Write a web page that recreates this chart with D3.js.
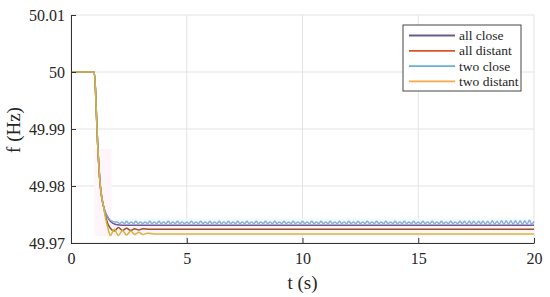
<!DOCTYPE html>
<head>
  <meta charset="utf-8">
  <script src="https://d3js.org/d3.v7.min.js"></script>
  <style>
    body { margin:0; background:white; }
    svg text { font-family: "Liberation Serif", "Times New Roman", serif; fill:#262626; }
    .grid line { stroke:#e3e3e3; }
    .axis path, .axis line { stroke:#333; }
  </style>
</head>
<body>
  <div class="chart"></div>
  <script>
    const margin = { top: 15, right: 16, bottom: 54, left: 71 };
    const width = 550 - margin.left - margin.right;
    const height = 297 - margin.top - margin.bottom;

    const xTicks = [0, 5, 10, 15, 20];
    const yTicks = [49.97, 49.98, 49.99, 50, 50.01];
    const yTickLabels = ['49.97', '49.98', '49.99', '50', '50.01'];
    const seriesNames = ['all close', 'all distant', 'two close', 'two distant'];

    // shared part: steady 50 Hz then the drop
    const dropT = [0, 1.0, 1.05, 1.1, 1.15, 1.2, 1.25, 1.3, 1.4];
    const dropF = [50, 50, 49.9975, 49.9925, 49.9875, 49.9838, 49.9808, 49.9788, 49.9765];

    const allCloseT = [1.5, 1.6, 1.7, 1.8, 2.0, 2.4, 20];
    const allCloseF = [49.9752, 49.9744, 49.9738, 49.9735, 49.9732, 49.9731, 49.9731];

    const allDistantT = [1.5, 1.6, 1.7, 1.87, 2.05, 2.22, 2.4, 2.58, 2.75, 2.93, 3.1, 3.4, 20];
    const allDistantF = [49.9746, 49.9733, 49.9726, 49.9721, 49.9727, 49.9722, 49.9726, 49.9722, 49.9725, 49.9723, 49.9725, 49.9724, 49.9724];

    const twoCloseT = [1.5, 1.6, 1.7, 1.8, 1.9];
    const twoCloseF = [49.9752, 49.9745, 49.9740, 49.9738, 49.9737];
    // two close: sampled every 0.1 s from t = 2.0 to 20
    const twoCloseTail = [
      49.9737, 49.9734, 49.9737, 49.9734, 49.9738, 49.9734, 49.9737, 49.9734, 49.9738, 49.9734,
      49.9737, 49.9734, 49.9737, 49.9734, 49.9738, 49.9734, 49.9737, 49.9734, 49.9738, 49.9734,
      49.9737, 49.9734, 49.9738, 49.9734, 49.9737, 49.9734, 49.9738, 49.9734, 49.9737, 49.9734,
      49.9737, 49.9734, 49.9738, 49.9734, 49.9737, 49.9734, 49.9738, 49.9734, 49.9737, 49.9734,
      49.9738, 49.9734, 49.9737, 49.9734, 49.9738, 49.9734, 49.9737, 49.9734, 49.9738, 49.9734,
      49.9737, 49.9734, 49.9738, 49.9734, 49.9737, 49.9734, 49.9738, 49.9734, 49.9737, 49.9734,
      49.9738, 49.9734, 49.9737, 49.9734, 49.9738, 49.9734, 49.9737, 49.9734, 49.9738, 49.9734,
      49.9737, 49.9734, 49.9738, 49.9734, 49.9737, 49.9734, 49.9738, 49.9734, 49.9737, 49.9734,
      49.9738, 49.9734, 49.9737, 49.9734, 49.9738, 49.9734, 49.9737, 49.9734, 49.9738, 49.9734,
      49.9737, 49.9734, 49.9738, 49.9734, 49.9737, 49.9734, 49.9738, 49.9734, 49.9737, 49.9734,
      49.9738, 49.9734, 49.9737, 49.9734, 49.9738, 49.9734, 49.9737, 49.9734, 49.9738, 49.9734,
      49.9737, 49.9734, 49.9738, 49.9734, 49.9737, 49.9734, 49.9738, 49.9734, 49.9737, 49.9734,
      49.9738, 49.9734, 49.9737, 49.9734, 49.9738, 49.9734, 49.9737, 49.9734, 49.9738, 49.9734,
      49.9737, 49.9734, 49.9738, 49.9734, 49.9737, 49.9734, 49.9738, 49.9734, 49.9737, 49.9734,
      49.9738, 49.9734, 49.9737, 49.9734, 49.9738, 49.9734, 49.9737, 49.9734, 49.9738, 49.9734,
      49.9738, 49.9733, 49.9738, 49.9734, 49.9738, 49.9733, 49.9738, 49.9734, 49.9738, 49.9733,
      49.9738, 49.9733, 49.9739, 49.9733, 49.9738, 49.9733, 49.9739, 49.9733, 49.9739, 49.9733,
      49.9739, 49.9733, 49.9739, 49.9733, 49.9739, 49.9733, 49.9739, 49.9733, 49.9740, 49.9733,
      49.9738
    ];

    const twoDistantT = [1.5, 1.6, 1.7, 1.87, 2.05, 2.22, 2.4, 2.58, 2.75, 2.93, 3.1, 3.3, 3.6, 20];
    const twoDistantF = [49.9742, 49.9725, 49.9713, 49.9724, 49.9713, 49.9722, 49.9714, 49.9721, 49.9715, 49.9719, 49.9715, 49.9717, 49.9716, 49.9716];

    // faint shaded envelopes seen behind the curves
    const bandUpperT = [2.0, 20];
    const bandUpperLo = [49.9736, 49.9736];
    const bandUpperHi = [49.9743, 49.9743];
    const bandLowerT = [1.0, 1.75, 1.75, 20];
    const bandLowerLo = [49.9712, 49.9712, 49.9713, 49.9713];
    const bandLowerHi = [49.9865, 49.9865, 49.9731, 49.9731];

    const lineColors = ['#6a5a96', '#9a5028', '#7a9fd8', '#d8b53c'];
    const legendColors = ['#6b5a8c', '#d9542c', '#68b0cf', '#f7a848'];
    const serif = '"Liberation Serif", "Times New Roman", serif';

    const zip = (t, f) => t.map((d, i) => ({ t: d, f: f[i] }));
    const withDrop = (t, f) => zip(dropT, dropF).concat(zip(t, f));

    const series = [
      withDrop(allCloseT, allCloseF),
      withDrop(allDistantT, allDistantF),
      withDrop(twoCloseT, twoCloseF).concat(twoCloseTail.map((f, i) => ({ t: 2 + i * 0.1, f }))),
      withDrop(twoDistantT, twoDistantF)
    ];

    const svg = d3.select('.chart').append('svg')
      .attr('width', 550).attr('height', 297)
      .append('g')
      .attr('transform', `translate(${margin.left},${margin.top})`);

    const x = d3.scaleLinear().domain([0, 20]).range([0, width]);
    const y = d3.scaleLinear().domain([49.97, 50.01]).range([height, 0]);

    // grid
    const grid = svg.append('g').attr('class', 'grid');
    grid.selectAll('.gx').data(xTicks).enter().append('line')
      .attr('x1', d => x(d)).attr('x2', d => x(d)).attr('y1', 0).attr('y2', height);
    grid.selectAll('.gy').data(yTicks).enter().append('line')
      .attr('x1', 0).attr('x2', width).attr('y1', d => y(d)).attr('y2', d => y(d));

    // bands
    const band = d3.area().x(d => x(d.t)).y0(d => y(d.lo)).y1(d => y(d.hi));
    svg.append('path')
      .datum(bandUpperT.map((t, i) => ({ t, lo: bandUpperLo[i], hi: bandUpperHi[i] })))
      .attr('d', band).attr('fill', '#f0fcfd');
    svg.append('path')
      .datum(bandLowerT.map((t, i) => ({ t, lo: bandLowerLo[i], hi: bandLowerHi[i] })))
      .attr('d', band).attr('fill', '#fdf5fa');

    const line = d3.line().x(d => x(d.t)).y(d => y(d.f)).curve(d3.curveMonotoneX);
    [0, 1, 2, 3].forEach(i => {
      svg.append('path')
        .datum(series[i])
        .attr('d', line)
        .attr('fill', 'none')
        .attr('stroke', lineColors[i])
        .attr('stroke-width', 1.5)
        .attr('stroke-opacity', i === 2 ? 0.85 : 1);
    });

    // axes
    const yAxis = d3.axisLeft(y).tickValues(yTicks)
      .tickFormat((d, i) => yTickLabels[i]).tickSizeInner(-5).tickSizeOuter(0).tickPadding(6);
    svg.append('g').attr('class', 'axis').call(yAxis).attr('font-family', serif)
      .selectAll('text').style('font-size', '16px');

    const xAxis = d3.axisBottom(x).tickValues(xTicks).tickSizeInner(-5).tickSizeOuter(0).tickPadding(10);
    svg.append('g').attr('class', 'axis')
      .attr('transform', `translate(0,${height})`)
      .call(xAxis).attr('font-family', serif)
      .selectAll('text').style('font-size', '16px');

    svg.append('text')
      .attr('x', x(10)).attr('y', height + 46)
      .attr('text-anchor', 'middle')
      .style('font-size', '19px')
      .text('t (s)');

    svg.append('text')
      .attr('transform', `translate(${-51},${height / 2 + 1}) rotate(-90)`)
      .attr('text-anchor', 'middle')
      .style('font-size', '19px')
      .text('f (Hz)');

    // legend
    const lg = svg.append('g').attr('transform', `translate(${403 - margin.left},${25 - margin.top})`);
    lg.append('rect').attr('width', 118).attr('height', 66)
      .attr('fill', 'white').attr('stroke', '#444').attr('stroke-width', 1);
    seriesNames.forEach((name, i) => {
      const yy = 10.5 + i * 15.3;
      lg.append('line').attr('x1', 6).attr('x2', 52).attr('y1', yy).attr('y2', yy)
        .attr('stroke', legendColors[i]).attr('stroke-width', 1.8);
      lg.append('text').attr('x', 56).attr('y', yy + 4.5)
        .style('font-size', '13.5px').text(name);
    });
  </script>
</body>
